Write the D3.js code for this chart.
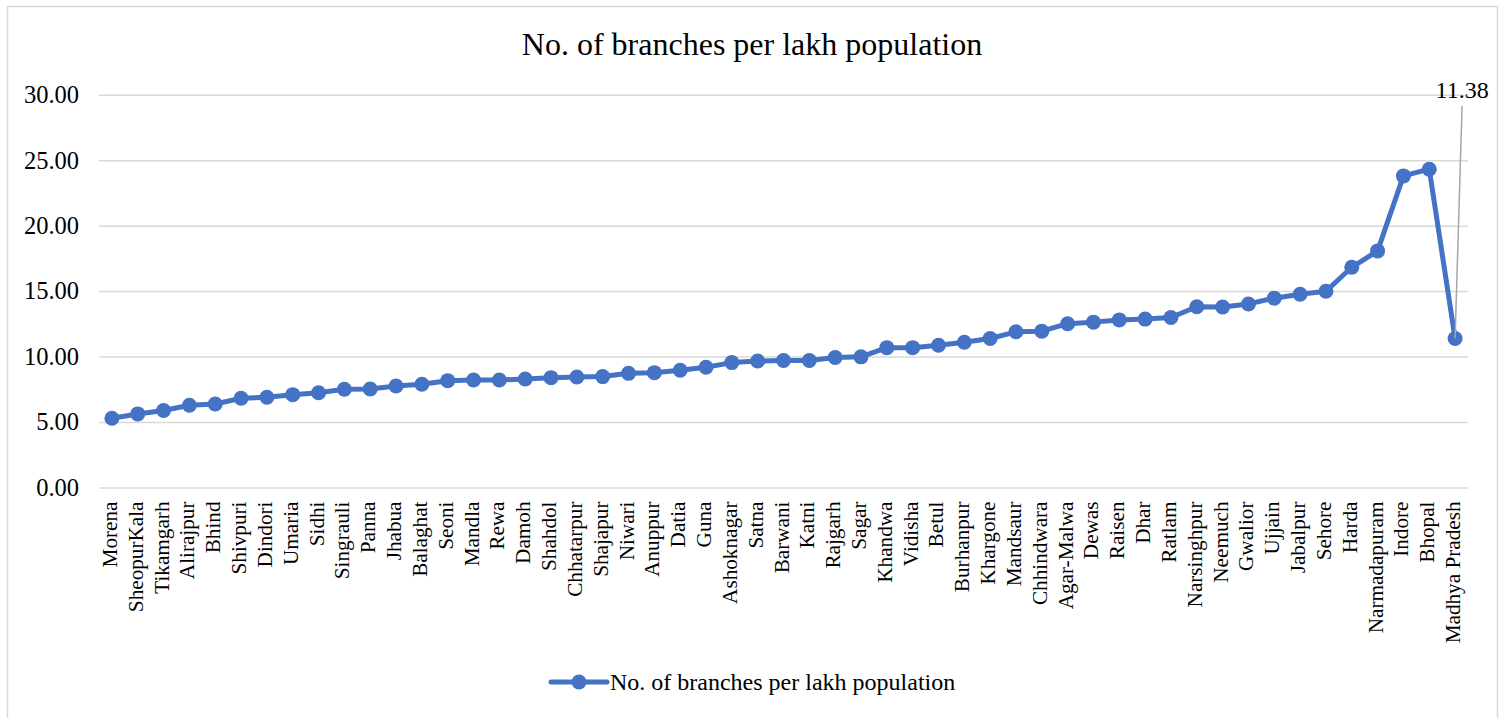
<!DOCTYPE html>
<html>
<head>
<meta charset="utf-8">
<script src="https://cdn.jsdelivr.net/npm/d3@7"></script>
<style>
  html, body { margin: 0; padding: 0; background: #ffffff; }
  svg { display: block; }
  text { font-family: "Liberation Serif", "Times New Roman", serif; fill: #000000; }
</style>
</head>
<body>
<svg id="chart" width="1503" height="718"></svg>
<script>
// District-wise number of bank branches per lakh population
const districts = [
  "Morena", "SheopurKala", "Tikamgarh", "Alirajpur", "Bhind", "Shivpuri", "Dindori",
  "Umaria", "Sidhi", "Singrauli", "Panna", "Jhabua", "Balaghat", "Seoni", "Mandla",
  "Rewa", "Damoh", "Shahdol", "Chhatarpur", "Shajapur", "Niwari", "Anuppur", "Datia",
  "Guna", "Ashoknagar", "Satna", "Barwani", "Katni", "Rajgarh", "Sagar", "Khandwa",
  "Vidisha", "Betul", "Burhanpur", "Khargone", "Mandsaur", "Chhindwara", "Agar-Malwa",
  "Dewas", "Raisen", "Dhar", "Ratlam", "Narsinghpur", "Neemuch", "Gwalior", "Ujjain",
  "Jabalpur", "Sehore", "Harda", "Narmadapuram", "Indore", "Bhopal", "Madhya Pradesh"
];
const branchesPerLakh = [
  5.29, 5.62, 5.88, 6.28, 6.38, 6.82, 6.89,
  7.09, 7.24, 7.50, 7.52, 7.75, 7.89, 8.16, 8.21,
  8.21, 8.29, 8.39, 8.44, 8.47, 8.72, 8.77, 8.95,
  9.18, 9.54, 9.66, 9.70, 9.70, 9.93, 9.98, 10.68,
  10.68, 10.86, 11.09, 11.38, 11.89, 11.94, 12.51,
  12.63, 12.80, 12.86, 12.98, 13.80, 13.79, 14.02, 14.46,
  14.76, 14.99, 16.82, 18.07, 23.80, 24.31, 11.38
];
const yTicks = [0, 5, 10, 15, 20, 25, 30];
const seriesName = "No. of branches per lakh population";
const chartTitle = "No. of branches per lakh population";
const labelledPoint = "Madhya Pradesh";

const svg = d3.select("#chart");
const lineColor = "#4472C4";
const gridColor = "#d9d9d9";
const serif = "'Liberation Serif', 'Times New Roman', serif";

// Outer chart frame
svg.append("rect")
  .attr("x", 7.5).attr("y", 6.5)
  .attr("width", 1490).attr("height", 730)
  .attr("fill", "none")
  .attr("stroke", gridColor)
  .attr("stroke-width", 1.5);

// Title
svg.append("text")
  .attr("x", 752).attr("y", 55)
  .attr("text-anchor", "middle")
  .style("font-size", "32px")
  .text(chartTitle);

// Scales
const x = d3.scaleBand().domain(districts).range([99, 1468]);
const y = d3.scaleLinear().domain([0, 30]).range([487.5, 94.7]);
const cx = d => x(d) + x.bandwidth() / 2;

// Horizontal gridlines with value labels
const yAxis = d3.axisLeft(y).tickValues(yTicks).tickFormat(d3.format(".2f"))
  .tickSize(-(1468 - 99)).tickPadding(20);
const gy = svg.append("g").attr("transform", "translate(99,0)").call(yAxis);
gy.select(".domain").remove();
gy.selectAll(".tick line").attr("stroke", gridColor).attr("stroke-width", 1.5);
gy.selectAll(".tick text")
  .style("font-size", "24.5px")
  .style("font-family", serif)
  .attr("fill", "#000");

// Category axis labels, rotated to read upwards
const xAxis = d3.axisBottom(x).tickSize(0).tickPadding(0);
const gx = svg.append("g").attr("transform", "translate(0,487.5)").call(xAxis);
gx.select(".domain").remove();
gx.selectAll(".tick text")
  .attr("transform", "translate(5,14) rotate(-90)")
  .attr("x", 0).attr("y", 0).attr("dy", 0)
  .attr("text-anchor", "end")
  .style("font-size", "21.2px")
  .style("font-family", serif)
  .attr("fill", "#000");

// Series line and markers
const data = districts.map((d, i) => ({ name: d, value: branchesPerLakh[i] }));
const line = d3.line().x(d => cx(d.name)).y(d => y(d.value));

svg.append("path")
  .datum(data)
  .attr("d", line)
  .attr("fill", "none")
  .attr("stroke", lineColor)
  .attr("stroke-width", 5)
  .attr("stroke-linejoin", "round");

svg.append("g").selectAll("circle")
  .data(data)
  .join("circle")
  .attr("cx", d => cx(d.name))
  .attr("cy", d => y(d.value))
  .attr("r", 7.5)
  .attr("fill", lineColor);

// Data label with leader line for the state total
const lp = data.find(d => d.name === labelledPoint);
const labelX = cx(lp.name) + 7;
svg.append("line")
  .attr("x1", labelX).attr("y1", 106)
  .attr("x2", cx(lp.name)).attr("y2", y(lp.value))
  .attr("stroke", "#a6a6a6")
  .attr("stroke-width", 1.5);
svg.append("text")
  .attr("x", labelX).attr("y", 98)
  .attr("text-anchor", "middle")
  .style("font-size", "24px")
  .text(d3.format(".2f")(lp.value));

// Legend
const legend = svg.append("g").attr("transform", "translate(551,682)");
legend.append("line")
  .attr("x1", 0).attr("x2", 56).attr("y1", 0).attr("y2", 0)
  .attr("stroke", lineColor).attr("stroke-width", 5)
  .attr("stroke-linecap", "round");
legend.append("circle").attr("cx", 28).attr("cy", 0).attr("r", 7.5).attr("fill", lineColor);
legend.append("text")
  .attr("x", 59).attr("y", 7.5)
  .style("font-size", "24px")
  .text(seriesName);
</script>
</body>
</html>
